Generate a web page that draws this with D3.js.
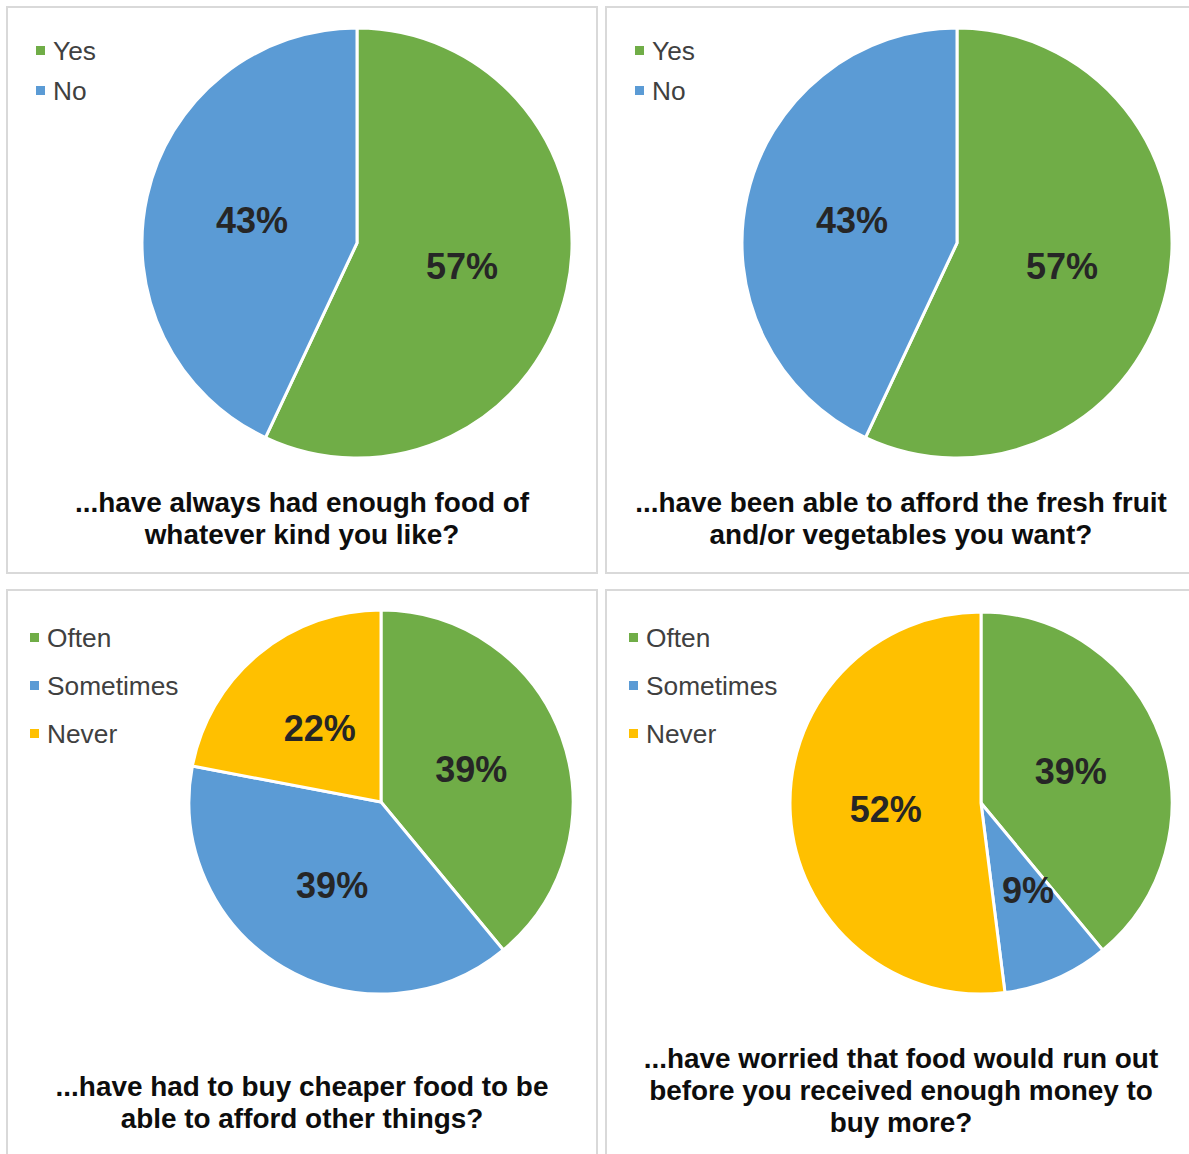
<!DOCTYPE html>
<html>
<head>
<meta charset="utf-8">
<script src="https://cdn.jsdelivr.net/npm/d3@7"></script>
<style>
  body { margin: 0; background: #fff; }
  svg { display: block; font-family: "Liberation Sans", Arial, sans-serif; }
</style>
</head>
<body>
<svg id="chart" width="1189" height="1154"></svg>
<script>
// categories
const yesNo = ['Yes', 'No'];
const frequency = ['Often', 'Sometimes', 'Never'];

// series values (percent)
const enoughFood = [57, 43];
const freshFruit = [57, 43];
const cheaperFood = [39, 39, 22];
const worriedRunOut = [39, 9, 52];

// question titles
const titleEnough = ['...have always had enough food of', 'whatever kind you like?'];
const titleFruit = ['...have been able to afford the fresh fruit', 'and/or vegetables you want?'];
const titleCheaper = ['...have had to buy cheaper food to be', 'able to afford other things?'];
const titleWorried = ['...have worried that food would run out', 'before you received enough money to', 'buy more?'];

const colors = d3.scaleOrdinal()
  .domain(['Yes', 'No', 'Often', 'Sometimes', 'Never'])
  .range(['#70AD47', '#5B9BD5', '#70AD47', '#5B9BD5', '#FFC000']);

// layout of the four panels
const panels = [
  { cats: yesNo, vals: enoughFood, title: titleEnough,
    box: [7, 7, 590, 566], cx: 357, cy: 243, r: 215,
    legX: 36, legY: 50.5, legStep: 40, titleX: 302, titleY: 502 },
  { cats: yesNo, vals: freshFruit, title: titleFruit,
    box: [606, 7, 600, 566], cx: 957, cy: 243, r: 215,
    legX: 635, legY: 50.5, legStep: 40, titleX: 901, titleY: 502 },
  { cats: frequency, vals: cheaperFood, title: titleCheaper,
    box: [7, 590, 590, 580], cx: 381, cy: 802, r: 192,
    legX: 30, legY: 637.5, legStep: 48, titleX: 302, titleY: 1086 },
  { cats: frequency, vals: worriedRunOut, title: titleWorried,
    box: [606, 590, 600, 580], cx: 981, cy: 803, r: 191,
    legX: 629, legY: 637.5, legStep: 48, titleX: 901, titleY: 1058 }
];

const svg = d3.select('#chart');
const pie = d3.pie().sort(null).value(d => d.value);

panels.forEach(p => {
  const g = svg.append('g');

  g.append('rect')
    .attr('x', p.box[0]).attr('y', p.box[1])
    .attr('width', p.box[2]).attr('height', p.box[3])
    .attr('fill', '#fff')
    .attr('stroke', '#d9d9d9')
    .attr('stroke-width', 2);

  const data = p.cats.map((c, i) => ({ cat: c, value: p.vals[i] }));
  const arc = d3.arc().innerRadius(0).outerRadius(p.r);

  const pg = g.append('g').attr('transform', `translate(${p.cx},${p.cy})`);
  const arcs = pie(data);

  pg.selectAll('path')
    .data(arcs)
    .join('path')
    .attr('d', arc)
    .attr('fill', d => colors(d.data.cat))
    .attr('stroke', '#fff')
    .attr('stroke-width', 3)
    .attr('stroke-linejoin', 'round');

  pg.selectAll('text')
    .data(arcs)
    .join('text')
    .attr('transform', d => {
      const c = arc.centroid(d);
      // small slices: label pushed a little outward, as the original does
      const k = d.data.value < 10 ? 1.08 : 1;
      return `translate(${c[0] * k + (d.data.value < 10 ? 6 : 0)},${c[1] * k - (d.data.value < 10 ? 8 : 0)})`;
    })
    .attr('text-anchor', 'middle')
    .attr('dy', '0.36em')
    .attr('font-size', 36)
    .attr('font-weight', 'bold')
    .attr('fill', '#262626')
    .text(d => d.data.value + '%');

  // legend
  const leg = g.selectAll('g.leg')
    .data(p.cats)
    .join('g')
    .attr('class', 'leg')
    .attr('transform', (d, i) => `translate(${p.legX},${p.legY + i * p.legStep})`);
  leg.append('rect')
    .attr('x', 0).attr('y', -4.5)
    .attr('width', 9).attr('height', 9)
    .attr('fill', d => colors(d));
  leg.append('text')
    .attr('x', 17)
    .attr('dy', '0.36em')
    .attr('font-size', 26.3)
    .attr('fill', '#404040')
    .text(d => d);

  // title
  g.selectAll('text.title')
    .data(p.title)
    .join('text')
    .attr('class', 'title')
    .attr('x', p.titleX)
    .attr('y', (d, i) => p.titleY + i * 32)
    .attr('dy', '0.36em')
    .attr('text-anchor', 'middle')
    .attr('font-size', 27.9)
    .attr('font-weight', 'bold')
    .attr('fill', '#0d0d0d')
    .text(d => d);
});
</script>
</body>
</html>
